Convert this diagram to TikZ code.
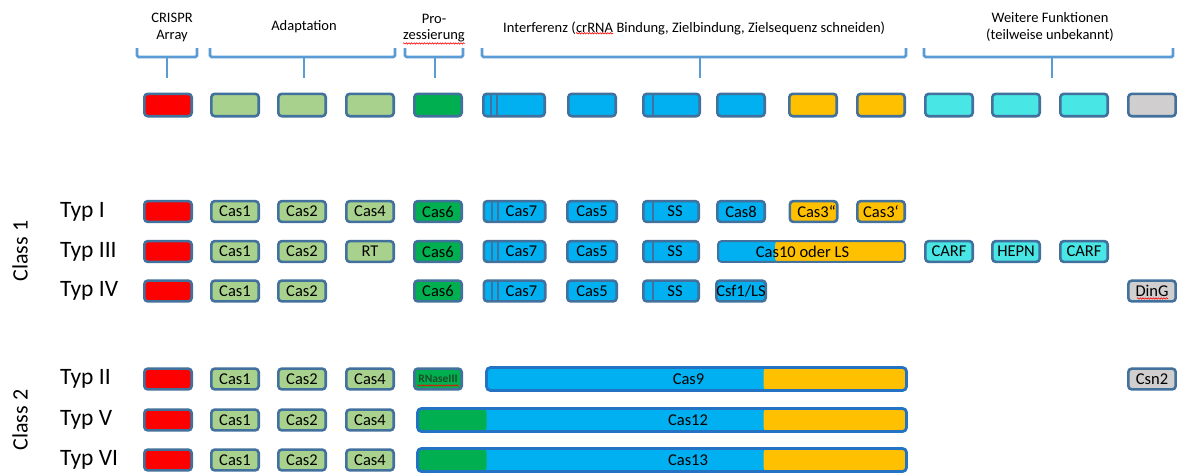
\documentclass[tikz,border=0pt]{standalone}
\usepackage{fontspec}
\setmainfont{Carlito}
\usepackage{xcolor}
\usetikzlibrary{decorations.pathmorphing}

\definecolor{arrayred}{HTML}{FF0000}
\definecolor{adagreen}{HTML}{A9D18E}
\definecolor{progreen}{HTML}{00B050}
\definecolor{intblue}{HTML}{00B0F0}
\definecolor{nucorange}{HTML}{FFC000}
\definecolor{funcyan}{HTML}{48E6E4}
\definecolor{fungray}{HTML}{D0CECE}
\definecolor{boxline}{HTML}{41719C}
\definecolor{barline}{HTML}{2372C4}
\definecolor{bracecol}{HTML}{5B9BD5}
\definecolor{rnasetext}{HTML}{1E4D26}

\begin{document}
\begin{tikzpicture}[x=1pt, y=-1pt,
		gene/.style={draw=boxline, line width=2.6pt, rounded corners=3.5pt, minimum width=47.4pt, minimum height=20.8pt, inner sep=0pt, font=\fontsize{16.5}{16.5}\selectfont},
		top/.style={minimum height=22.4pt},
		bar/.style={draw=barline, line width=2.8pt, rounded corners=4pt, minimum height=23pt, inner sep=0pt, fill=intblue},
		bartext/.style={font=\fontsize{16.5}{16.5}\selectfont, inner sep=0pt},
		head/.style={font=\fontsize{14.5}{17}\selectfont, align=center, inner sep=0pt},
		typ/.style={font=\fontsize{23.5}{23.5}\selectfont, anchor=west, inner sep=0pt},
		class/.style={font=\fontsize{22}{22}\selectfont, rotate=90, inner sep=0pt},
		brace/.style={draw=bracecol, line width=2.8pt, rounded corners=1.5pt},
		spell/.style={draw=red, line width=0.6pt, decorate, decoration={snake, amplitude=0.7pt, segment length=2.6pt}},
		stripes/.style={path picture={
				\foreach \s in {#1}
				\draw[boxline, line width=1.8pt] ([xshift=\s]path picture bounding box.south west) -- ([xshift=\s]path picture bounding box.north west);
		}},
		split/.style 2 args={path picture={
				\fill[progreen] (path picture bounding box.south west) rectangle ([xshift=#1]path picture bounding box.north west);
				\fill[nucorange] ([xshift=-#2]path picture bounding box.south east) rectangle (path picture bounding box.north east);
		}}
	]
	\useasboundingbox (0,0) rectangle (1177,472);
	
	% Funktionsgruppen oben
	\node[head] (crispr) at (172,27) {CRISPR\\Array};
	\node[head] (adapt) at (304,27) {Adaptation};
	\node[head] (pro) at (434,19) {Pro-};
	\node[head] (zess) at (434,36) {zessierung};
	\node[head, anchor=base west] (intf1) at (503,32) {Interferenz (};
	\node[head, anchor=base west] (crrna) at (intf1.base east) {crRNA};
	\node[head, anchor=base west] (intf2) at (crrna.base east) {\ Bindung, Zielbindung, Zielsequenz schneiden)};
	\node[head] (weitere) at (1050,27) {Weitere Funktionen\\(teilweise unbekannt)};
	\draw[spell] ([yshift=-1pt]zess.south west) -- ([yshift=-1pt]zess.south east);
	\draw[spell] ([yshift=-1pt]crrna.south west) -- ([yshift=-1pt]crrna.south east);
	
	% Klammern
	\foreach \a/\b/\m in {137/197/167, 210/395/304, 405/463/435, 482/906/700, 924/1173/1052} {
		\draw[brace] (\a,48) -- (\a,57) -- (\b,57) -- (\b,48);
		\draw[brace] (\m,57) -- (\m,78);
	}
	
	% obere Reihe
	\foreach \i/\x/\col in {1/168/arrayred, 2/235/adagreen, 3/302/adagreen, 4/370/adagreen, 5/438/progreen, 7/592/intblue, 9/741/intblue, 10/813/nucorange, 11/881/nucorange, 12/949/funcyan, 13/1016/funcyan, 14/1084/funcyan, 15/1152/fungray}
		\node[gene, top, fill=\col] (t\i) at (\x,105) {};
	\node[gene, top, fill=intblue, minimum width=61.4pt, stripes={8,14}] (t6) at (514,105) {};
	\node[gene, top, fill=intblue, minimum width=56.4pt, stripes={10}] (t8) at (671.5,105) {};
	
	% Klassen und Typen
	\node[class] (class1) at (20,251) {Class 1};
	\node[class] (class2) at (20,420) {Class 2};
	\foreach \r/\y in {I/211.5, III/251.5, IV/291, II/379, V/420, VI/460} {
		\node[typ] (lab-\r) at (60,\y) {Typ \r};
		\node[gene, fill=arrayred] (\r-arr) at (168,\y) {};
		\node[gene, fill=adagreen] (\r-cas1) at (235,\y) {Cas1};
		\node[gene, fill=adagreen] (\r-cas2) at (302,\y) {Cas2};
	}
	\foreach \r/\y in {I/211.5, II/379, V/420, VI/460}
		\node[gene, fill=adagreen] (\r-cas4) at (370,\y) {Cas4};
	\node[gene, fill=adagreen] (III-rt) at (370,251.5) {RT};
	
	% Class 1: Cas6, Cas7, Cas5, SS
	\foreach \r/\y in {I/211.5, III/251.5, IV/291} {
		\node[gene, fill=progreen] (\r-cas6) at (438,\y) {Cas6};
		\node[gene, fill=intblue, minimum width=61.4pt, stripes={8,14}] (\r-cas7) at (514.5,\y) {\hspace{14pt}Cas7};
		\node[gene, fill=intblue, minimum width=49.4pt] (\r-cas5) at (592,\y) {Cas5};
		\node[gene, fill=intblue, minimum width=55.4pt, stripes={10}] (\r-ss) at (671,\y) {\hspace{8pt}SS};
	}
	\node[gene, fill=intblue] (I-cas8) at (741,211.5) {Cas8};
	\node[gene, fill=nucorange] (I-cas3a) at (813.5,211.5) {\hspace{6pt}Cas3“};
	\node[gene, fill=nucorange] (I-cas3b) at (881,211.5) {Cas3‘};
	\node[gene, fill=intblue, line width=2pt, minimum width=187pt, split={0}{130}] (III-cas10) at (811.5,251.5) {\hspace{-18pt}Cas10 oder LS};
	\node[gene, fill=funcyan] (III-carf1) at (949,251.5) {CARF};
	\node[gene, fill=funcyan] (III-hepn) at (1016,251.5) {HEPN};
	\node[gene, fill=funcyan] (III-carf2) at (1084,251.5) {CARF};
	\node[gene, fill=intblue] (IV-csf1) at (741,291) {Csf1/LS};
	\node[gene, fill=fungray] (IV-ding) at (1152,291) {DinG};
	\draw[spell] ([xshift=-15pt, yshift=-7.5pt]IV-ding.center) -- ([xshift=16pt, yshift=-7.5pt]IV-ding.center);
	
	% Class 2: Effektoren
	\node[gene, fill=progreen] (II-rnase) at (438,379) {\fontsize{11.5}{11.5}\selectfont\bfseries\color{rnasetext}RNaseIII};
	\draw[spell] ([xshift=-21pt, yshift=-6.5pt]II-rnase.center) -- ([xshift=21pt, yshift=-6.5pt]II-rnase.center);
	\node[bar, minimum width=420pt, split={0}{143}, label={[bartext, xshift=-8pt]center:Cas9}] (II-cas9) at (696.5,379) {};
	\node[gene, fill=fungray] (II-csn2) at (1152,379) {Csn2};
	\node[bar, minimum width=489pt, split={69}{143}, label={[bartext, xshift=26pt]center:Cas12}] (V-cas12) at (662,420) {};
	\node[bar, minimum width=489pt, split={69}{143}, label={[bartext, xshift=26pt]center:Cas13}] (VI-cas13) at (662,460) {};
\end{tikzpicture}
\end{document}
